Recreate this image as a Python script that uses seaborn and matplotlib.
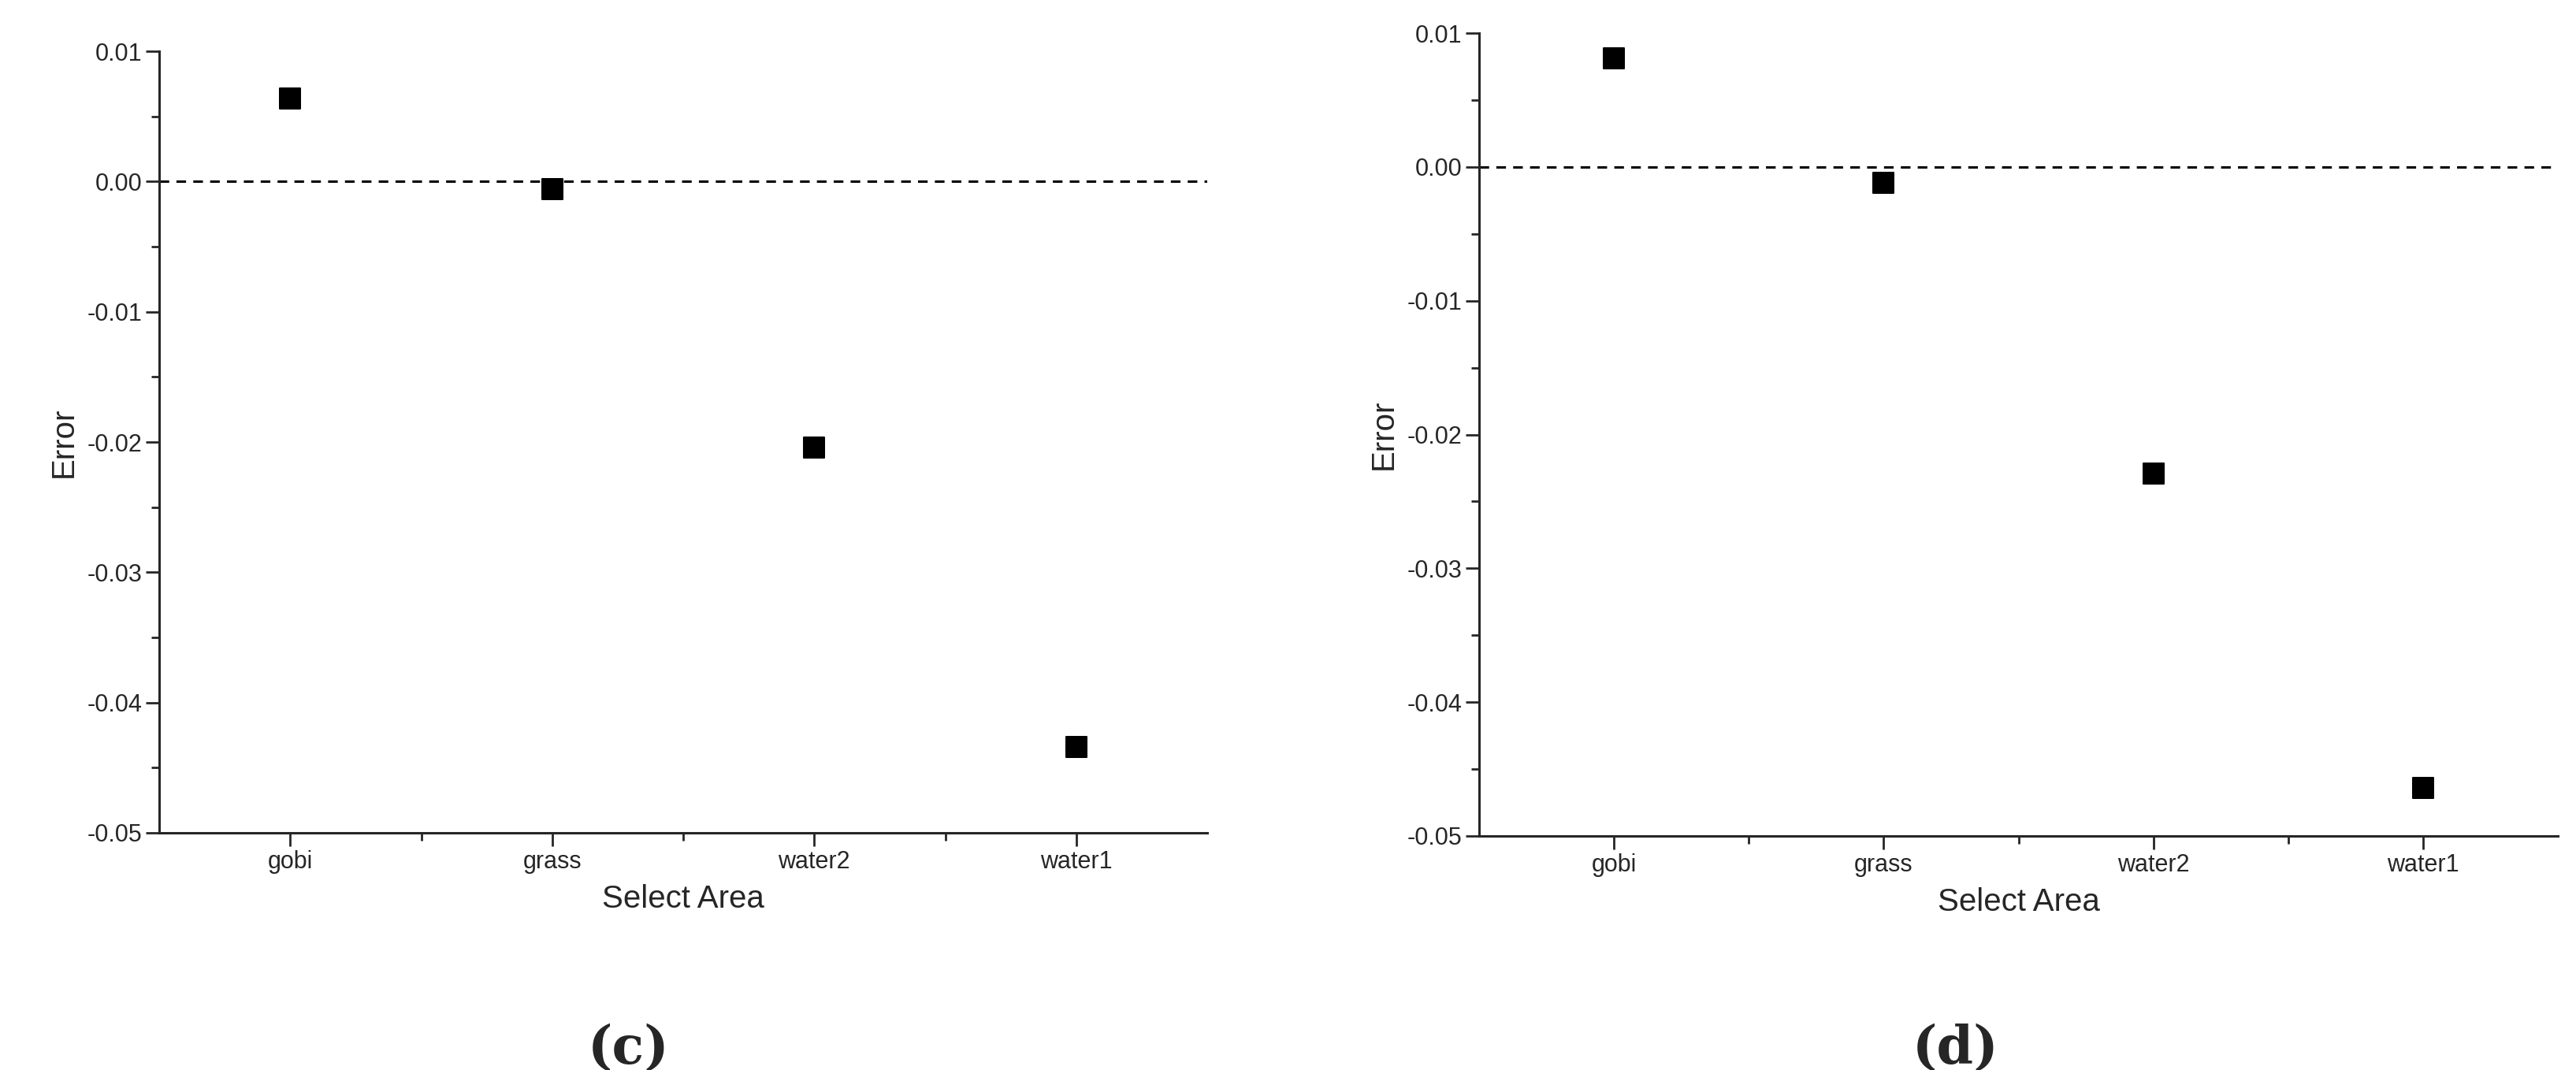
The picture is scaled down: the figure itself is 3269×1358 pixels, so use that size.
import matplotlib
matplotlib.use("Agg")
import matplotlib.pyplot as plt
import seaborn as sns
import pandas as pd
from matplotlib.ticker import MultipleLocator, FixedLocator

sns.set_style("ticks")
plt.rcParams['font.family'] = ['Liberation Sans', 'DejaVu Sans']

areas = ["gobi", "grass", "water2", "water1"]
err_c = [0.0064, -0.0006, -0.0204, -0.0434]
err_d = [0.0081, -0.0012, -0.0229, -0.0464]

fig = plt.figure(figsize=(32.69, 13.58), dpi=100)
W, H = 3269, 1358
boxes = [(202, 65, 1532, 1057), (1877, 42, 3246, 1061)]
panels = [(err_c, "(c)", 0.244), (err_d, "(d)", 0.759)]

def fmt(v, p):
    if abs(v) < 1e-9:
        return "0.00"
    return f"{v:.2f}"

for (x0, y0, x1, y1), (vals, lab, lx) in zip(boxes, panels):
    ax = fig.add_axes([x0 / W, 1 - y1 / H, (x1 - x0) / W, (y1 - y0) / H])
    df = pd.DataFrame({"area": areas, "err": vals, "pos": range(len(areas))})
    sns.scatterplot(data=df, x="pos", y="err", marker="s", s=330, color="black",
                    edgecolor="black", ax=ax, zorder=3)
    ax.axhline(0, color="black", ls=(0, (4, 3)), lw=2.2)
    ax.set_xlim(-0.5, 3.5)
    ax.set_ylim(-0.05, 0.01)
    ax.xaxis.set_major_locator(FixedLocator(range(4)))
    ax.set_xticklabels(areas)
    ax.xaxis.set_minor_locator(FixedLocator([0.5, 1.5, 2.5]))
    ax.yaxis.set_major_locator(MultipleLocator(0.01))
    ax.yaxis.set_minor_locator(MultipleLocator(0.005))
    ax.yaxis.set_major_formatter(matplotlib.ticker.FuncFormatter(fmt))
    ax.tick_params(which="major", length=12, width=2, labelsize=22, direction="out")
    ax.tick_params(which="minor", length=7, width=2, direction="out")
    for s in ["top", "right"]:
        ax.spines[s].set_visible(False)
    for s in ["left", "bottom"]:
        ax.spines[s].set_linewidth(2.2)
    ax.set_xlabel("Select Area", fontsize=29, labelpad=10)
    ax.set_ylabel("Error", fontsize=29, labelpad=8)
    fig.text(lx, 0.02, lab, ha="center", va="center", fontsize=48,
             fontweight="bold", family=["DejaVu Serif"])

fig.savefig("out.png", dpi=100)
